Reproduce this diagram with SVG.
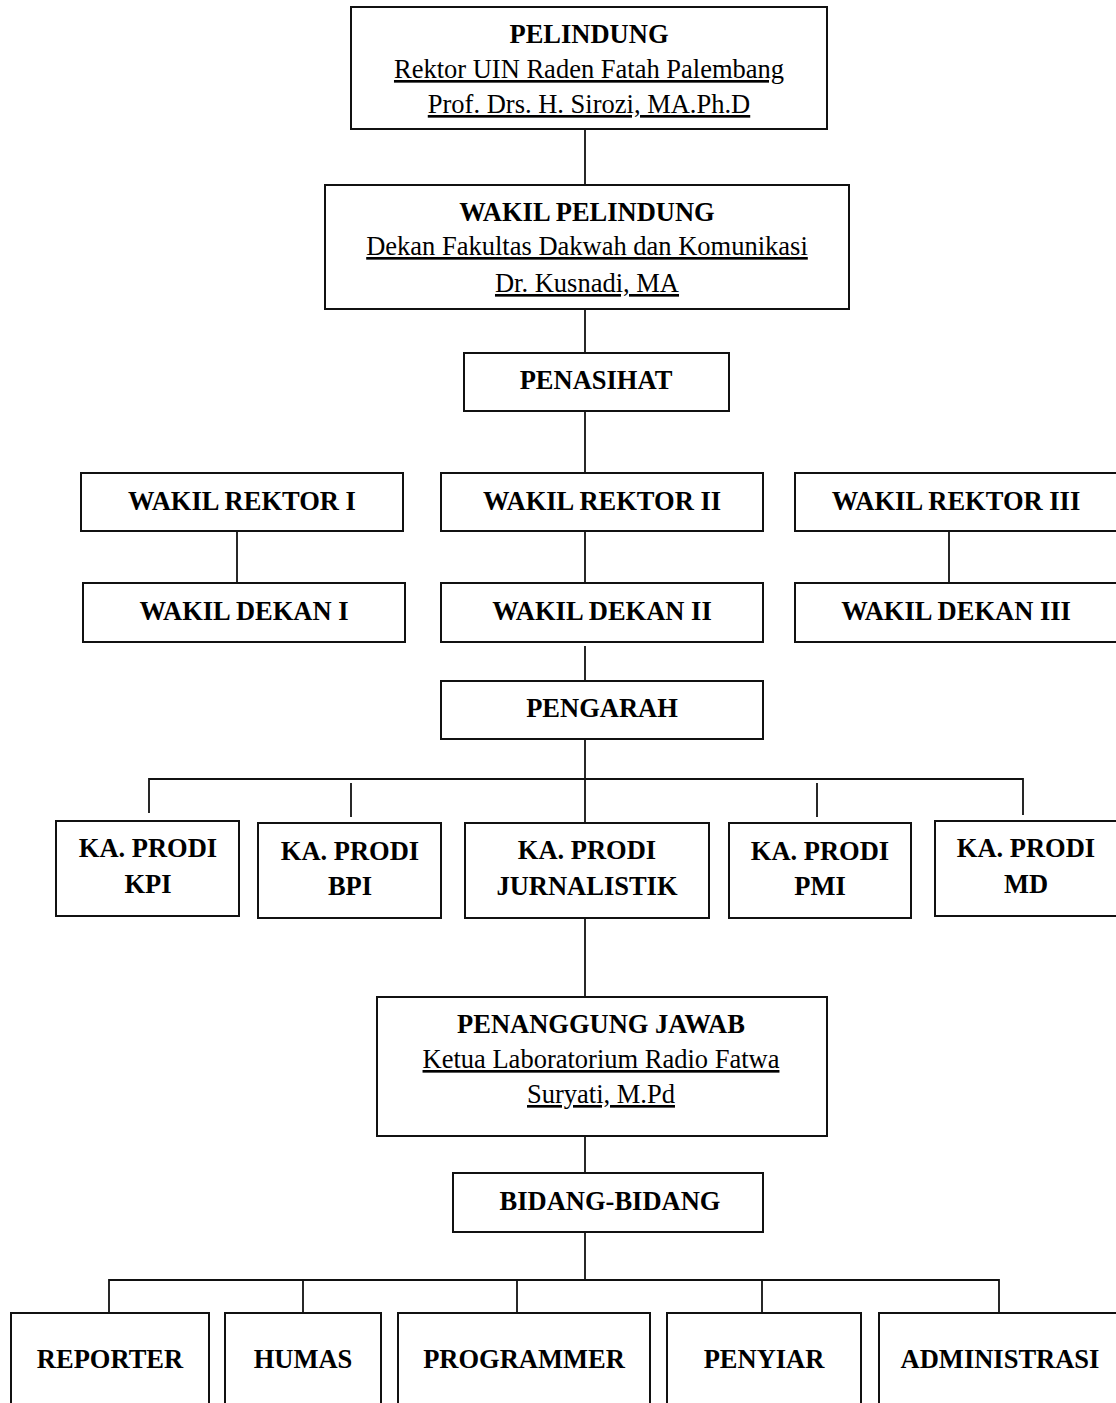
<svg xmlns="http://www.w3.org/2000/svg" width="1116" height="1403" viewBox="0 0 1116 1403">
<style>
.box{fill:#fff;stroke:#111;stroke-width:2}
.ln{fill:none;stroke:#111;stroke-width:1.8}
text{font-family:"Liberation Serif","Times New Roman",serif;font-size:26.5px;fill:#000;text-anchor:middle}
.b{font-weight:bold}
.u{text-decoration:underline}
</style>
<rect width="1116" height="1403" fill="#fff"/>
<g id="connectors">
<line class="ln" x1="585" y1="129" x2="585" y2="185"/>
<line class="ln" x1="585" y1="309" x2="585" y2="353"/>
<line class="ln" x1="585" y1="411" x2="585" y2="473"/>
<line class="ln" x1="237" y1="531" x2="237" y2="583"/>
<line class="ln" x1="585" y1="531" x2="585" y2="583"/>
<line class="ln" x1="949" y1="531" x2="949" y2="583"/>
<line class="ln" x1="585" y1="646" x2="585" y2="681"/>
<line class="ln" x1="585" y1="739" x2="585" y2="823"/>
<polyline class="ln" points="149,813 149,779 1023,779 1023,815"/>
<line class="ln" x1="351" y1="783" x2="351" y2="817"/>
<line class="ln" x1="817" y1="783" x2="817" y2="817"/>
<line class="ln" x1="585" y1="917" x2="585" y2="997"/>
<line class="ln" x1="585" y1="1136" x2="585" y2="1173"/>
<line class="ln" x1="585" y1="1232" x2="585" y2="1280"/>
<polyline class="ln" points="109,1313 109,1280 999,1280 999,1313"/>
<line class="ln" x1="303" y1="1280" x2="303" y2="1313"/>
<line class="ln" x1="517" y1="1280" x2="517" y2="1313"/>
<line class="ln" x1="762" y1="1280" x2="762" y2="1313"/>
</g>
<g id="pelindung">
<rect class="box" x="351" y="7" width="476" height="122"/>
<text class="b" x="589" y="43">PELINDUNG</text>
<text class="u" x="589" y="78">Rektor UIN Raden Fatah Palembang</text>
<text class="u" x="589" y="113">Prof. Drs. H. Sirozi, MA.Ph.D</text>
</g>
<g id="wakil-pelindung">
<rect class="box" x="325" y="185" width="524" height="124"/>
<text class="b" x="587" y="221">WAKIL PELINDUNG</text>
<text class="u" x="587" y="255">Dekan Fakultas Dakwah dan Komunikasi</text>
<text class="u" x="587" y="292">Dr. Kusnadi, MA</text>
</g>
<g id="penasihat">
<rect class="box" x="464" y="353" width="265" height="58"/>
<text class="b" x="596" y="389">PENASIHAT</text>
</g>
<g id="wakil-rektor-1">
<rect class="box" x="81" y="473" width="322" height="58"/>
<text class="b" x="242" y="510">WAKIL REKTOR I</text>
</g>
<g id="wakil-rektor-2">
<rect class="box" x="441" y="473" width="322" height="58"/>
<text class="b" x="602" y="510">WAKIL REKTOR II</text>
</g>
<g id="wakil-rektor-3">
<rect class="box" x="795" y="473" width="340" height="58"/>
<text class="b" x="956" y="510">WAKIL REKTOR III</text>
</g>
<g id="wakil-dekan-1">
<rect class="box" x="83" y="583" width="322" height="59"/>
<text class="b" x="244" y="620">WAKIL DEKAN I</text>
</g>
<g id="wakil-dekan-2">
<rect class="box" x="441" y="583" width="322" height="59"/>
<text class="b" x="602" y="620">WAKIL DEKAN II</text>
</g>
<g id="wakil-dekan-3">
<rect class="box" x="795" y="583" width="340" height="59"/>
<text class="b" x="956" y="620">WAKIL DEKAN III</text>
</g>
<g id="pengarah">
<rect class="box" x="441" y="681" width="322" height="58"/>
<text class="b" x="602" y="717">PENGARAH</text>
</g>
<g id="prodi-kpi">
<rect class="box" x="56" y="821" width="183" height="95"/>
<text class="b" x="148" y="857">KA. PRODI</text>
<text class="b" x="148" y="893">KPI</text>
</g>
<g id="prodi-bpi">
<rect class="box" x="258" y="823" width="183" height="95"/>
<text class="b" x="350" y="860">KA. PRODI</text>
<text class="b" x="350" y="895">BPI</text>
</g>
<g id="prodi-jurnalistik">
<rect class="box" x="465" y="823" width="244" height="95"/>
<text class="b" x="587" y="859">KA. PRODI</text>
<text class="b" x="587" y="895">JURNALISTIK</text>
</g>
<g id="prodi-pmi">
<rect class="box" x="729" y="823" width="182" height="95"/>
<text class="b" x="820" y="860">KA. PRODI</text>
<text class="b" x="820" y="895">PMI</text>
</g>
<g id="prodi-md">
<rect class="box" x="935" y="821" width="200" height="95"/>
<text class="b" x="1026" y="857">KA. PRODI</text>
<text class="b" x="1026" y="893">MD</text>
</g>
<g id="penanggung-jawab">
<rect class="box" x="377" y="997" width="450" height="139"/>
<text class="b" x="601" y="1033">PENANGGUNG JAWAB</text>
<text class="u" x="601" y="1068">Ketua Laboratorium Radio Fatwa</text>
<text class="u" x="601" y="1103">Suryati, M.Pd</text>
</g>
<g id="bidang-bidang">
<rect class="box" x="453" y="1173" width="310" height="59"/>
<text class="b" x="610" y="1210">BIDANG-BIDANG</text>
</g>
<g id="reporter">
<rect class="box" x="11" y="1313" width="198" height="110"/>
<text class="b" x="110" y="1368">REPORTER</text>
</g>
<g id="humas">
<rect class="box" x="225" y="1313" width="156" height="110"/>
<text class="b" x="303" y="1368">HUMAS</text>
</g>
<g id="programmer">
<rect class="box" x="398" y="1313" width="252" height="110"/>
<text class="b" x="524" y="1368">PROGRAMMER</text>
</g>
<g id="penyiar">
<rect class="box" x="667" y="1313" width="194" height="110"/>
<text class="b" x="764" y="1368">PENYIAR</text>
</g>
<g id="administrasi">
<rect class="box" x="879" y="1313" width="260" height="110"/>
<text class="b" x="1000" y="1368">ADMINISTRASI</text>
</g>
</svg>
